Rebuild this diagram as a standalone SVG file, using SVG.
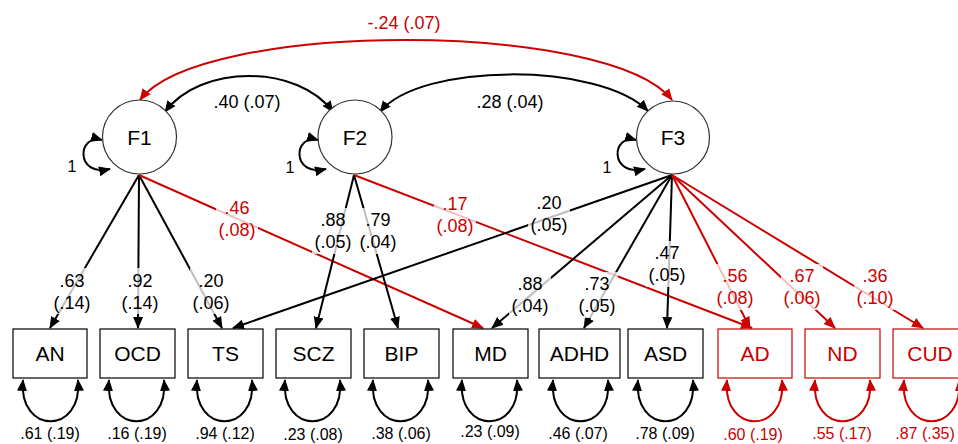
<svg xmlns="http://www.w3.org/2000/svg" width="958" height="444" viewBox="0 0 958 444">
<defs>
<marker id="ab" markerUnits="userSpaceOnUse" markerWidth="12" markerHeight="12" viewBox="0 0 12 12" refX="11" refY="6" orient="auto-start-reverse"><path d="M0,1 L12,6 L0,11 z" fill="#000"/></marker>
<marker id="ar" markerUnits="userSpaceOnUse" markerWidth="12" markerHeight="12" viewBox="0 0 12 12" refX="11" refY="6" orient="auto-start-reverse"><path d="M0,1 L12,6 L0,11 z" fill="#cc0000"/></marker>
<style>
text{font-family:"Liberation Sans",Arial,Helvetica,sans-serif;text-anchor:middle}
.k{stroke:#000;stroke-width:2;fill:none;marker-end:url(#ab)}
.r{stroke:#cc0000;stroke-width:2;fill:none;marker-end:url(#ar)}
.kk{stroke:#000;stroke-width:2;fill:none;marker-start:url(#ab);marker-end:url(#ab)}
.rr{stroke:#cc0000;stroke-width:2;fill:none;marker-start:url(#ar);marker-end:url(#ar)}
.fac{fill:#fff;stroke:#333;stroke-width:1.2}
.bx{fill:#fff;stroke:#000;stroke-width:1.2}
.bxr{fill:#fff;stroke:#cc0000;stroke-width:1.2}
.nl{font-size:21px;fill:#000}
.nlr{font-size:21px;fill:#cc0000}
.lb{font-size:18px;fill:#000}
.lbr{font-size:18px;fill:#cc0000}
.rs{font-size:16px;fill:#000}
.rsr{font-size:16px;fill:#cc0000}
.bg{fill:#fff;fill-opacity:0.75}
</style>
</defs>
<g id="connectors">
<path class="rr" d="M140,100 C200,20 610,20 672,100"/>
<path class="kk" d="M165,112 C200,64 298,64 333,112"/>
<path class="kk" d="M380,112 C420,62 600,62 648,111"/>
<path class="kk" d="M102,140 C78,133 74,177 110,169"/>
<path class="kk" d="M318,140 C294,133 290,177 326,169"/>
<path class="kk" d="M636,140 C612,133 608,177 645,169"/>
<path class="k" d="M139,175 L50,328"/>
<path class="k" d="M139,175 L138,328"/>
<path class="k" d="M139,175 L222,328"/>
<path class="r" d="M139,175 L483,328"/>
<path class="k" d="M354,175 L316,328"/>
<path class="k" d="M354,175 L398,328"/>
<path class="r" d="M354,175 L752,328"/>
<path class="k" d="M672,175 L233,328"/>
<path class="k" d="M672,175 L492,328"/>
<path class="k" d="M672,175 L584,328"/>
<path class="k" d="M672,175 L667,328"/>
<path class="r" d="M672,175 L750,328"/>
<path class="r" d="M672,175 L835,328"/>
<path class="r" d="M672,175 L923,328"/>
<path class="kk" d="M23,380 C18,435 83,435 78,380"/>
<path class="kk" d="M109,380 C104,435 169,435 164,380"/>
<path class="kk" d="M197,380 C192,435 257,435 252,380"/>
<path class="kk" d="M285,380 C280,435 345,435 340,380"/>
<path class="kk" d="M373,380 C368,435 433,435 428,380"/>
<path class="kk" d="M462,380 C457,435 522,435 517,380"/>
<path class="kk" d="M553,380 C548,435 613,435 608,380"/>
<path class="kk" d="M638,380 C633,435 698,435 693,380"/>
<path class="rr" d="M727,380 C722,435 787,435 782,380"/>
<path class="rr" d="M815,380 C810,435 875,435 870,380"/>
<path class="rr" d="M904,380 C899,435 964,435 959,380"/>
</g>
<g id="labels">
<text class="lbr" x="404" y="29">-.24 (.07)</text>
<text class="lb" x="247" y="108">.40 (.07)</text>
<text class="lb" x="510" y="108">.28 (.04)</text>
<text class="rs" x="72" y="172">1</text>
<text class="rs" x="290" y="173">1</text>
<text class="rs" x="607" y="173">1</text>
<rect class="bg" x="51" y="268" width="42" height="46"/>
<text class="lb" x="72" y="287">.63</text><text class="lb" x="72" y="309">(.14)</text>
<rect class="bg" x="119" y="268" width="42" height="46"/>
<text class="lb" x="140" y="287">.92</text><text class="lb" x="140" y="309">(.14)</text>
<rect class="bg" x="190" y="268" width="42" height="46"/>
<text class="lb" x="211" y="287">.20</text><text class="lb" x="211" y="309">(.06)</text>
<rect class="bg" x="216" y="196" width="42" height="46"/>
<text class="lbr" x="237" y="214">.46</text><text class="lbr" x="237" y="236">(.08)</text>
<rect class="bg" x="312" y="208" width="42" height="46"/>
<text class="lb" x="333" y="226">.88</text><text class="lb" x="333" y="248">(.05)</text>
<rect class="bg" x="357" y="208" width="42" height="46"/>
<text class="lb" x="378" y="226">.79</text><text class="lb" x="378" y="248">(.04)</text>
<rect class="bg" x="434" y="192" width="42" height="46"/>
<text class="lbr" x="455" y="210">.17</text><text class="lbr" x="455" y="232">(.08)</text>
<rect class="bg" x="528" y="191" width="42" height="46"/>
<text class="lb" x="549" y="209">.20</text><text class="lb" x="549" y="231">(.05)</text>
<rect class="bg" x="509" y="272" width="42" height="46"/>
<text class="lb" x="530" y="290">.88</text><text class="lb" x="530" y="312">(.04)</text>
<rect class="bg" x="576" y="272" width="42" height="46"/>
<text class="lb" x="597" y="290">.73</text><text class="lb" x="597" y="312">(.05)</text>
<rect class="bg" x="646" y="241" width="42" height="46"/>
<text class="lb" x="667" y="259">.47</text><text class="lb" x="667" y="281">(.05)</text>
<rect class="bg" x="714" y="264" width="42" height="46"/>
<text class="lbr" x="735" y="282">.56</text><text class="lbr" x="735" y="304">(.08)</text>
<rect class="bg" x="781" y="264" width="42" height="46"/>
<text class="lbr" x="802" y="282">.67</text><text class="lbr" x="802" y="304">(.06)</text>
<rect class="bg" x="854" y="264" width="42" height="46"/>
<text class="lbr" x="875" y="282">.36</text><text class="lbr" x="875" y="304">(.10)</text>
<text class="rs" x="50" y="439">.61 (.19)</text>
<text class="rs" x="137" y="439">.16 (.19)</text>
<text class="rs" x="225" y="439">.94 (.12)</text>
<text class="rs" x="313" y="440">.23 (.08)</text>
<text class="rs" x="401" y="439">.38 (.06)</text>
<text class="rs" x="490" y="437">.23 (.09)</text>
<text class="rs" x="578" y="439">.46 (.07)</text>
<text class="rs" x="665" y="439">.78 (.09)</text>
<text class="rsr" x="753" y="440">.60 (.19)</text>
<text class="rsr" x="842" y="439">.55 (.17)</text>
<text class="rsr" x="925" y="439">.87 (.35)</text>
</g>
<g id="F1"><circle class="fac" cx="139.5" cy="137" r="37"/><text class="nl" x="139.5" y="144.5">F1</text></g>
<g id="F2"><circle class="fac" cx="355" cy="137" r="37"/><text class="nl" x="355" y="144.5">F2</text></g>
<g id="F3"><circle class="fac" cx="673" cy="137.5" r="36.5"/><text class="nl" x="673" y="145">F3</text></g>
<g id="AN"><rect class="bx" x="13" y="329" width="74" height="49"/><text class="nl" x="50" y="361">AN</text></g>
<g id="OCD"><rect class="bx" x="100" y="329" width="75" height="49"/><text class="nl" x="137.5" y="361">OCD</text></g>
<g id="TS"><rect class="bx" x="188" y="329" width="75" height="49"/><text class="nl" x="225.5" y="361">TS</text></g>
<g id="SCZ"><rect class="bx" x="276" y="329" width="75" height="49"/><text class="nl" x="313.5" y="361">SCZ</text></g>
<g id="BIP"><rect class="bx" x="364" y="329" width="75" height="49"/><text class="nl" x="401.5" y="361">BIP</text></g>
<g id="MD"><rect class="bx" x="453" y="329" width="75" height="49"/><text class="nl" x="490.5" y="361">MD</text></g>
<g id="ADHD"><rect class="bx" x="539" y="329" width="81" height="49"/><text class="nl" x="579.5" y="361">ADHD</text></g>
<g id="ASD"><rect class="bx" x="628" y="329" width="75" height="49"/><text class="nl" x="665.5" y="361">ASD</text></g>
<g id="AD"><rect class="bxr" x="718" y="329" width="74" height="49"/><text class="nlr" x="755" y="361">AD</text></g>
<g id="ND"><rect class="bxr" x="805" y="329" width="75" height="49"/><text class="nlr" x="842.5" y="361">ND</text></g>
<g id="CUD"><rect class="bxr" x="893" y="329" width="76" height="49"/><text class="nlr" x="930" y="361">CUD</text></g>
</svg>
